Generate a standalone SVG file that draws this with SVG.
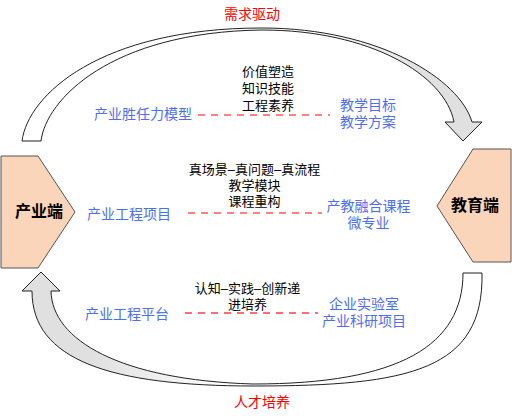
<svg xmlns="http://www.w3.org/2000/svg" width="512" height="416" viewBox="0 0 512 416">
<style>
text{font-family:"Liberation Sans","Noto Sans CJK SC",sans-serif;}
.blk{font-size:13px;fill:#000;text-anchor:middle;}
.blu{font-size:14px;fill:#4d6ef5;}
.red{font-size:14px;fill:#ff0000;text-anchor:middle;}
.node{font-size:16px;font-weight:bold;fill:#000;text-anchor:middle;}
.pent{fill:#fad5b9;stroke:#555;stroke-width:1;}
.arc{stroke:#222;stroke-width:1;stroke-linejoin:miter;}
.dash{stroke:#ff5a5a;stroke-width:1.6;stroke-dasharray:7 6;fill:none;}
</style>
<defs>
<linearGradient id="gTop" x1="0" y1="0" x2="1" y2="0">
<stop offset="0" stop-color="#ffffff"/>
<stop offset="0.62" stop-color="#ffffff"/>
<stop offset="0.88" stop-color="#e0e0e0"/>
<stop offset="1" stop-color="#e0e0e0"/>
</linearGradient>
<linearGradient id="gBot" x1="0" y1="0" x2="1" y2="0">
<stop offset="0" stop-color="#e0e0e0"/>
<stop offset="0.15" stop-color="#e0e0e0"/>
<stop offset="0.45" stop-color="#ffffff"/>
<stop offset="1" stop-color="#ffffff"/>
</linearGradient>
</defs>
<g id="connectors">
<path id="arrow-top" class="arc" fill="url(#gTop)" d="M22,141 C28,95 100,28 262,28 C380,28 460,80 472,122 L482,122 L463,141 L445,122 L454,122 C445,75 370,30 262,30 C110,32 46,100 41,141 Z"/>
<path id="arrow-bottom" class="arc" fill="url(#gBot)" d="M463,273 L482,273 C484,370 410,386 254,386 C110,386 32,360 32,291 L22,291 L41,272 L60,291 L51,291 C52,340 120,380 253,384 C400,384 463,345 463,273 Z"/>
<line class="dash" x1="198" y1="115" x2="330" y2="115"/>
<line class="dash" x1="188" y1="213" x2="322" y2="213"/>
<line class="dash" x1="185" y1="313" x2="318" y2="313" style="stroke-width:2.2;stroke:#ff6e6e"/>
<text class="red" x="252" y="19">需求驱动</text>
<text class="red" x="262" y="407">人才培养</text>
</g>
<g id="industry">
<polygon class="pent" points="1,156 38,156 75,212 38,268 1,268"/>
<text class="node" x="39" y="217">产业端</text>
</g>
<g id="education">
<polygon class="pent" points="511,149 473,149 437,206 473,262 511,262"/>
<text class="node" x="475" y="211">教育端</text>
</g>
<g id="row1">
<text class="blk"><tspan x="268" y="76">价值塑造</tspan><tspan x="268" y="93">知识技能</tspan><tspan x="268" y="110">工程素养</tspan></text>
<text class="blu" x="94" y="119">产业胜任力模型</text>
<text class="blu" text-anchor="middle"><tspan x="368" y="110">教学目标</tspan><tspan x="368" y="127">教学方案</tspan></text>
</g>
<g id="row2">
<text class="blk"><tspan x="254.5" y="174">真场景–真问题–真流程</tspan><tspan x="254.5" y="190">教学模块</tspan><tspan x="254.5" y="206">课程重构</tspan></text>
<text class="blu" x="87" y="219">产业工程项目</text>
<text class="blu" text-anchor="middle"><tspan x="368.5" y="211">产教融合课程</tspan><tspan x="368.5" y="228">微专业</tspan></text>
</g>
<g id="row3">
<text class="blk"><tspan x="247.5" y="293">认知–实践–创新递</tspan><tspan x="247.5" y="309">进培养</tspan></text>
<text class="blu" x="85" y="319">产业工程平台</text>
<text class="blu" text-anchor="middle"><tspan x="364" y="309">企业实验室</tspan><tspan x="364" y="326">产业科研项目</tspan></text>
</g>
</svg>
